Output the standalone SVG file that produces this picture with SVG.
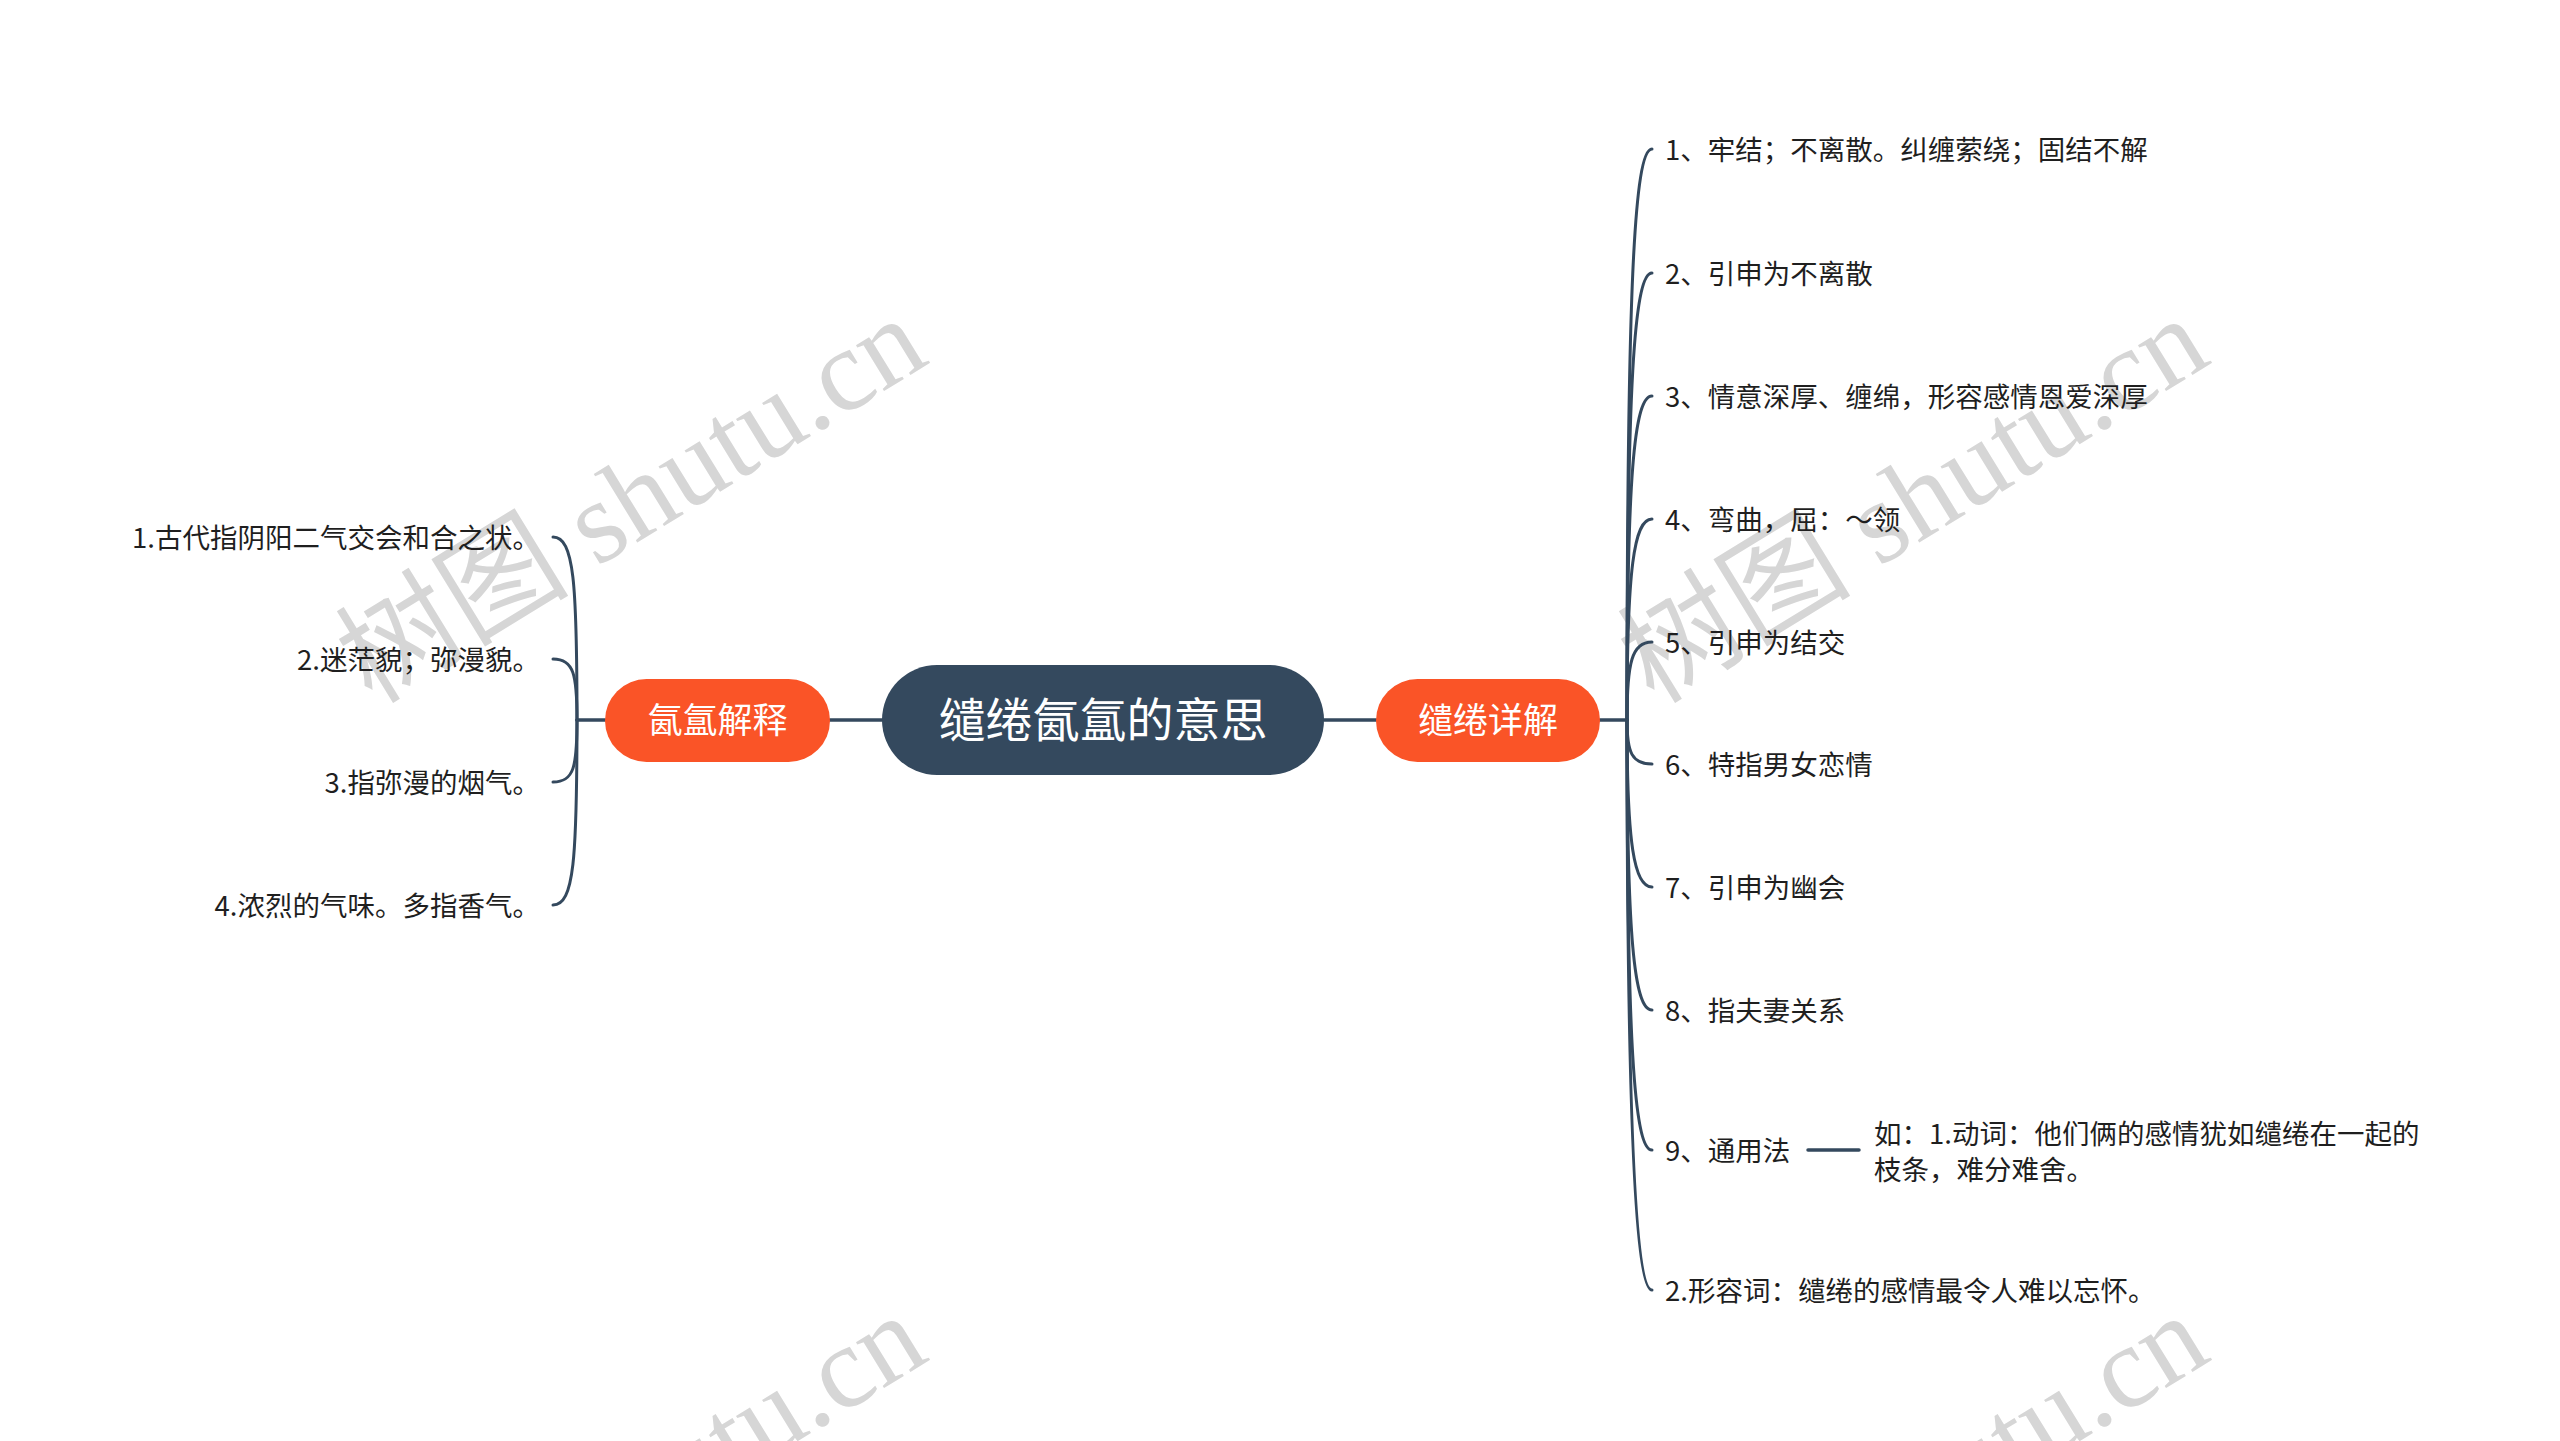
<svg xmlns="http://www.w3.org/2000/svg" width="2560" height="1441" viewBox="0 0 2560 1441">
<style>
.wm{font-family:"Liberation Serif","Noto Sans CJK SC",serif;font-size:117px;fill:#d6d6d6}
.con{fill:none;stroke:#34495e;stroke-width:3.5;stroke-linecap:round}
.br{fill:none;stroke:#34495e;stroke-width:3;stroke-linecap:round}
.t{font-family:"Noto Sans CJK SC","Noto Sans",sans-serif;font-size:27.5px;fill:#1f1f1f}
.main{fill:#34495e}
.sub{fill:#fa5427}
.mt{font-family:"Noto Sans CJK SC","Noto Sans",sans-serif;font-size:47px;fill:#ffffff;text-anchor:middle}
.st{font-family:"Noto Sans CJK SC","Noto Sans",sans-serif;font-size:35px;fill:#ffffff;text-anchor:middle}
</style>
<rect width="2560" height="1441" fill="#ffffff"/>
<g id="watermarks">
<text class="wm" transform="translate(372,705) rotate(-31.5)">树图 shutu.cn</text>
<text class="wm" transform="translate(1654,705) rotate(-31.5)">树图 shutu.cn</text>
<text class="wm" transform="translate(372,1702) rotate(-31.5)">树图 shutu.cn</text>
<text class="wm" transform="translate(1654,1702) rotate(-31.5)">树图 shutu.cn</text>
</g>
<g id="connectors">
<path class="con" d="M830 720 H882"/>
<path class="con" d="M1324 720 H1376"/>
<path class="con" d="M605 720 H577"/>
<path class="con" d="M1600 720 H1627"/>
<path class="br" d="M577 720 C577 583,574 537,553 537"/>
<path class="br" d="M577 720 C577 675,574 659,553 659"/>
<path class="br" d="M577 720 C577 767,574 782,553 782"/>
<path class="br" d="M577 720 C577 859,574 905,553 905"/>
<path class="br" d="M1627 720 C1627 291,1634 149,1652 149"/>
<path class="br" d="M1627 720 C1627 385,1634 273,1652 273"/>
<path class="br" d="M1627 720 C1627 477,1634 396,1652 396"/>
<path class="br" d="M1627 720 C1627 569,1634 519,1652 519"/>
<path class="br" d="M1627 720 C1627 662,1632 642,1652 642"/>
<path class="br" d="M1627 720 C1627 753,1632 764,1652 764"/>
<path class="br" d="M1627 720 C1627 844,1634 887,1652 887"/>
<path class="br" d="M1627 720 C1627 937,1634 1010,1652 1010"/>
<path class="br" d="M1627 720 C1627 1042,1634 1150,1652 1150"/>
<path class="br" d="M1627 720 C1627 1077,1634 1290,1652 1290"/>
<path class="con" d="M1808 1150 H1859"/>
</g>
<g id="root">
<rect class="main" x="882" y="665" width="442" height="110" rx="55"/>
<text class="mt" x="1103" y="737">缱绻氤氲的意思</text>
</g>
<g id="node-left">
<rect class="sub" x="605" y="679" width="225" height="83" rx="41.5"/>
<text class="st" x="717.5" y="733">氤氲解释</text>
</g>
<g id="node-right">
<rect class="sub" x="1376" y="679" width="224" height="83" rx="41.5"/>
<text class="st" x="1488" y="733">缱绻详解</text>
</g>
<g id="left-items" text-anchor="end">
<text class="t" x="540" y="548">1.古代指阴阳二气交会和合之状。</text>
<text class="t" x="540" y="670">2.迷茫貌；弥漫貌。</text>
<text class="t" x="540" y="793">3.指弥漫的烟气。</text>
<text class="t" x="540" y="916">4.浓烈的气味。多指香气。</text>
</g>
<g id="right-items">
<text class="t" x="1665" y="160">1、牢结；不离散。纠缠萦绕；固结不解</text>
<text class="t" x="1665" y="284">2、引申为不离散</text>
<text class="t" x="1665" y="407">3、情意深厚、缠绵，形容感情恩爱深厚</text>
<text class="t" x="1665" y="530">4、弯曲，屈：～领</text>
<text class="t" x="1665" y="653">5、引申为结交</text>
<text class="t" x="1665" y="775">6、特指男女恋情</text>
<text class="t" x="1665" y="898">7、引申为幽会</text>
<text class="t" x="1665" y="1021">8、指夫妻关系</text>
<text class="t" x="1665" y="1161">9、通用法</text>
<text class="t" x="1665" y="1301">2.形容词：缱绻的感情最令人难以忘怀。</text>
</g>
<g id="item9-detail">
<text class="t" x="1874" y="1144">如：1.动词：他们俩的感情犹如缱绻在一起的</text>
<text class="t" x="1874" y="1180">枝条，难分难舍。</text>
</g>
</svg>
